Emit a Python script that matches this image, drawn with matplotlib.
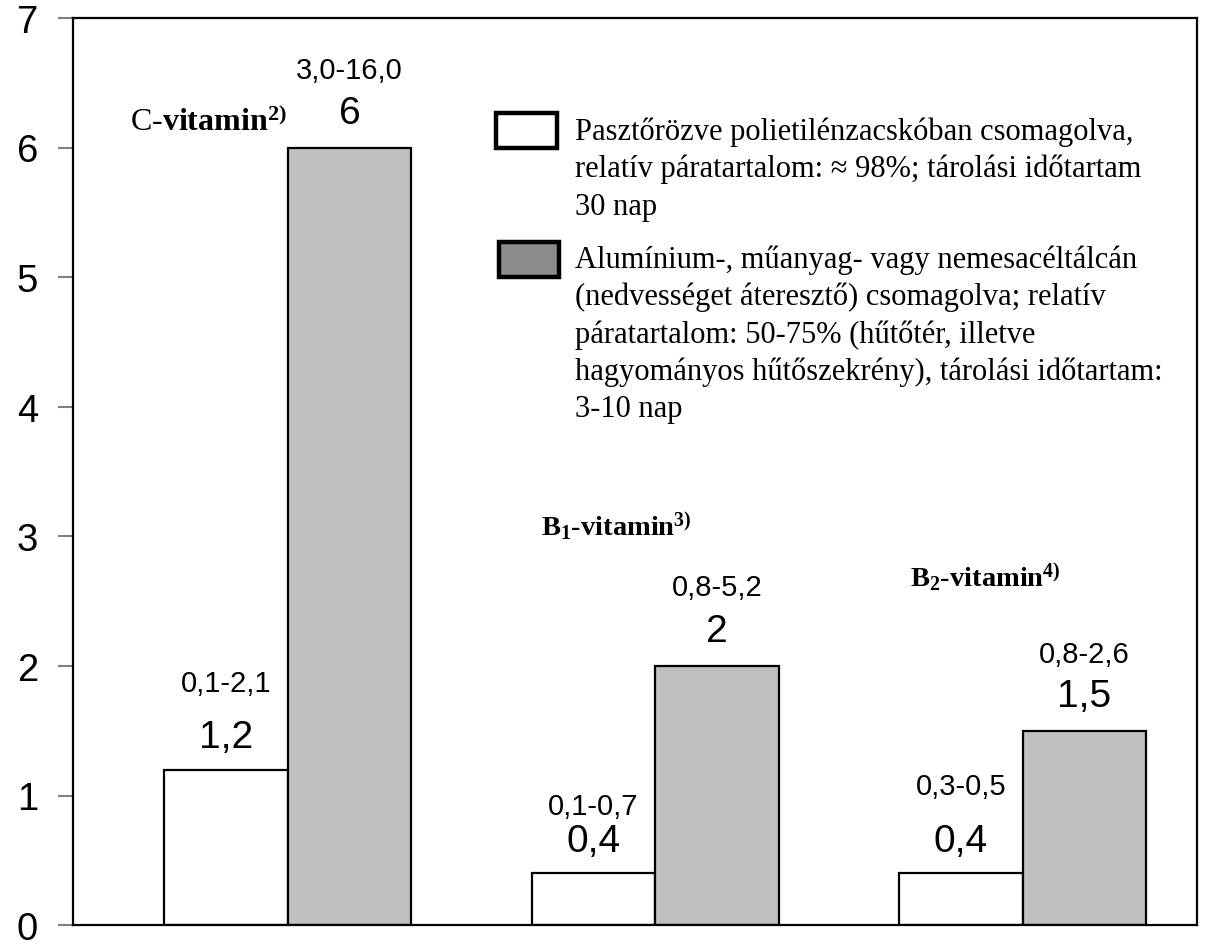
import matplotlib
matplotlib.use("Agg")
import matplotlib.pyplot as plt
import matplotlib.patches as mpatches
import numpy as np

# data
groups = ["C-vitamin", "B1-vitamin", "B2-vitamin"]
pasteurized = [1.2, 0.4, 0.4]
tray = [6, 2, 1.5]
pasteurized_labels = ["1,2", "0,4", "0,4"]
tray_labels = ["6", "2", "1,5"]
pasteurized_ranges = ["0,1-2,1", "0,1-0,7", "0,3-0,5"]
tray_ranges = ["3,0-16,0", "0,8-5,2", "0,8-2,6"]
group_titles = [r"C-$\mathbf{vitamin}^{\mathbf{2)}}$",
                r"$\mathbf{B}_{\mathbf{1}}$-vitamin$^{\mathbf{3)}}$",
                r"$\mathbf{B}_{\mathbf{2}}$-vitamin$^{\mathbf{4)}}$"]
legend_1 = ["Pasztőrözve polietilénzacskóban csomagolva,",
            "relatív páratartalom: ≈ 98%; tárolási időtartam",
            "30 nap"]
legend_2 = ["Alumínium-, műanyag- vagy nemesacéltálcán",
            "(nedvességet áteresztő) csomagolva; relatív",
            "páratartalom: 50-75% (hűtőtér, illetve",
            "hagyományos hűtőszekrény), tárolási időtartam:",
            "3-10 nap"]

plt.rcParams['mathtext.fontset'] = 'custom'
plt.rcParams['mathtext.rm'] = 'Liberation Serif'
plt.rcParams['mathtext.bf'] = 'Liberation Serif:bold'
plt.rcParams['mathtext.it'] = 'Liberation Serif:italic'

sans = "Liberation Sans"
serif = "Liberation Serif"

fig = plt.figure(figsize=(12.16, 9.45), dpi=100)
ax = fig.add_axes([0.060, 0.020, 0.924, 0.960])

x = np.arange(len(groups))
w = 0.336
ax.bar(x - w / 2, pasteurized, w, color="white", edgecolor="black", linewidth=1.6, zorder=2)
ax.bar(x + w / 2, tray, w, color="#c0c0c0", edgecolor="black", linewidth=1.6, zorder=2)

ax.set_xlim(-0.585, 2.473)
ax.set_ylim(0, 7)
ax.set_yticks(range(8))
ax.set_xticks([])
ax.tick_params(axis="y", labelsize=27.5, length=11, width=1.5, color="#808080", pad=14)
for lab in ax.get_yticklabels():
    lab.set_fontfamily(sans)
for s in ax.spines.values():
    s.set_linewidth(1.6)

# value and range labels
range_off_p = [0.42, 0.27, 0.42]
range_off_t = [0.33, 0.34, 0.32]
for i in range(len(groups)):
    yv = pasteurized[i] + 0.25
    ax.text(x[i] - w / 2, yv, pasteurized_labels[i], ha="center", va="center",
            fontsize=28, family=sans)
    ax.text(x[i] - w / 2, yv + range_off_p[i], pasteurized_ranges[i], ha="center",
            va="center", fontsize=21, family=sans)
    yt = tray[i] + 0.27
    ax.text(x[i] + w / 2, yt, tray_labels[i], ha="center", va="center",
            fontsize=28, family=sans)
    ax.text(x[i] + w / 2, yt + range_off_t[i], tray_ranges[i], ha="center",
            va="center", fontsize=21, family=sans)

# group titles
title_pos = [(-0.215, 6.2), (0.895, 3.08), (1.897, 2.69)]
title_size = [23, 20.5, 20.5]
for t, (tx, ty), fs in zip(group_titles, title_pos, title_size):
    ax.text(tx, ty, t, ha="center", va="center", fontsize=fs, family=serif,
            fontweight="bold" if t.startswith("$") else "normal")

# legend drawn by hand
def ax_y(px):
    return (926 - px) / 907.0

def ax_x(px):
    return (px - 73) / 1124.0

ax.add_patch(mpatches.Rectangle((ax_x(496), ax_y(149)), ax_x(557) - ax_x(496),
                                ax_y(114) - ax_y(149), transform=ax.transAxes,
                                facecolor="white", edgecolor="black", linewidth=3.2,
                                zorder=3))
ax.add_patch(mpatches.Rectangle((ax_x(499), ax_y(278)), ax_x(559) - ax_x(499),
                                ax_y(243) - ax_y(278), transform=ax.transAxes,
                                facecolor="#8c8c8c", edgecolor="black", linewidth=3.2,
                                zorder=3))
for j, line in enumerate(legend_1):
    ax.text(ax_x(575), ax_y(140 + 37.5 * j), line, transform=ax.transAxes,
            ha="left", va="baseline", fontsize=22, family=serif)
for j, line in enumerate(legend_2):
    ax.text(ax_x(575), ax_y(268 + 37.3 * j), line, transform=ax.transAxes,
            ha="left", va="baseline", fontsize=22, family=serif)

fig.savefig("out.png", dpi=100)
